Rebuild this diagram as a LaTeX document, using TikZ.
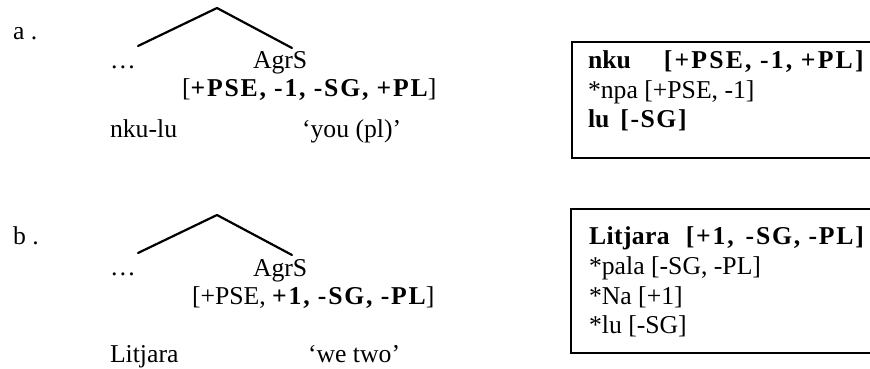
\documentclass[tikz,border=0pt]{standalone}
\usepackage{fontspec}
\setmainfont{Liberation Serif}
\newcommand\bsp[2][7]{{\bfseries\addfontfeature{LetterSpace=#1}#2}}
\tikzset{
  txt/.style={anchor=base west, inner sep=0pt, outer sep=0pt, font=\fontsize{25.7}{30}\selectfont},
  branch/.style={line width=2.2pt, line cap=round, line join=round},
  lexbox/.style={line width=1.6pt},
}
\begin{document}
\begin{tikzpicture}[x=1pt,y=-1pt]
\useasboundingbox (0,0) rectangle (870,369);
% ---------- a ----------
\node[txt] (la) at (13,40) {a .};
\coordinate (topa) at (217,8);
\coordinate (lefta) at (138,46);
\coordinate (righta) at (292,48);
\draw[branch] (lefta) -- (topa) -- (righta);
\node[txt] (dotsa) at (110,68) {…};
\node[txt] (agra) at (253,68) {AgrS};
\node[txt] (feata) at (182,96) {[\bsp{+PSE, -1, -SG, +PL}]};
\node[txt] (forma) at (110,137) {nku-lu};
\node[txt] (glossa) at (302,137) {‘you (pl)’};
\draw[lexbox] (572,42) rectangle (880,158);
\node[txt] (boxa1) at (588,68) {\textbf{nku}\hspace{33pt}\bsp[8.5]{[+PSE, -1, +PL]}};
\node[txt] (boxa2) at (588,98) {*npa [+PSE, -1]};
\node[txt] (boxa3) at (588,127) {\textbf{lu}\hspace{11pt}\bsp[6]{[-SG]}};
% ---------- b ----------
\node[txt] (lb) at (13,244) {b .};
\coordinate (topb) at (217,215);
\coordinate (leftb) at (138,253);
\coordinate (rightb) at (292,255);
\draw[branch] (leftb) -- (topb) -- (rightb);
\node[txt] (dotsb) at (110,275) {…};
\node[txt] (agrb) at (253,276) {AgrS};
\node[txt] (featb) at (192,304) {[+PSE, \bsp{+1, -SG, -PL}]};
\node[txt] (formb) at (110,362) {Litjara};
\node[txt] (glossb) at (308,362) {‘we two’};
\draw[lexbox] (571,209) rectangle (880,353);
\node[txt] (boxb1) at (589,244) {\bsp[1.5]{Litjara}\hspace{16pt}\bsp{[+1,\hspace{12pt}-SG, -PL]}};
\node[txt] (boxb2) at (589,274) {*pala [-SG, -PL]};
\node[txt] (boxb3) at (589,304) {*Na [+1]};
\node[txt] (boxb4) at (589,333) {*lu [-SG]};
\end{tikzpicture}
\end{document}
